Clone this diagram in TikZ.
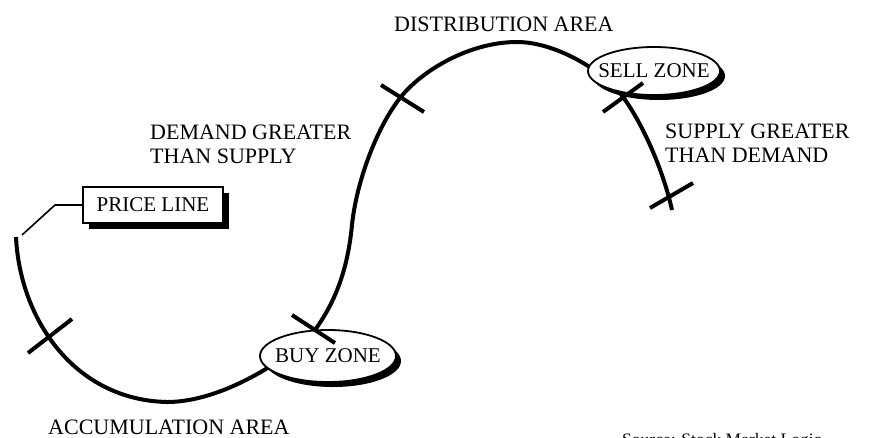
\documentclass[tikz,border=0pt]{standalone}
\usepackage{fontspec}
\setmainfont{Liberation Serif}
\usetikzlibrary{shapes.geometric,shadows}
\begin{document}
\begin{tikzpicture}[x=1pt,y=-1pt,
  pline/.style={line width=4pt},
  tickmark/.style={line width=4pt},
  leader/.style={line width=1.6pt},
  lbl/.style={font=\fontsize{22}{24}\selectfont, inner sep=0pt, align=left},
  zshadow/.style={drop shadow={shadow xshift=5pt, shadow yshift=-5pt, opacity=1, fill=black}},
  zone/.style={ellipse, draw, line width=1.8pt, fill=white, inner sep=0pt,
    font=\fontsize{21}{24}\selectfont, zshadow},
  pricebox/.style={rectangle, draw, line width=1.8pt, fill=white, minimum width=140pt,
    minimum height=36pt, inner sep=0pt, font=\fontsize{21}{24}\selectfont,
    drop shadow={shadow xshift=6pt, shadow yshift=-6pt, opacity=1, fill=black}},
]
\useasboundingbox (0,0) rectangle (878,437);

% curve points
\coordinate (p0) at (16,237);
\coordinate (p1) at (167,402);
\coordinate (p2) at (315,330);
\coordinate (p3) at (352,225);
\coordinate (p4) at (400,98);
\coordinate (p5) at (517,42);
\coordinate (p6) at (623,97);
\coordinate (p7) at (672,210);

\draw[pline] (p0) .. controls (20,320) and (75,400) .. (p1)
  .. controls (230,402) and (303,347) .. (p2)
  .. controls (338,298) and (348,265) .. (p3)
  .. controls (356,185) and (375,130) .. (p4)
  .. controls (422,70) and (470,42) .. (p5)
  .. controls (555,42) and (603,70) .. (p6)
  .. controls (640,120) and (662,165) .. (p7);

% zones
\node[zone, minimum width=136pt, minimum height=52pt] (bz) at (328,356) {\makebox[60pt]{BUY ZONE}};
\node[zone, minimum width=132pt, minimum height=48pt] (sz) at (654,71) {\makebox[60pt]{SELL ZONE}};

% ticks
\coordinate (t1a) at (28,353);  \coordinate (t1b) at (72,319);
\coordinate (t2a) at (292,315); \coordinate (t2b) at (335,343);
\coordinate (t3a) at (381,85);  \coordinate (t3b) at (424,112);
\coordinate (t4a) at (643,83);  \coordinate (t4b) at (603,112);
\coordinate (t5a) at (693,183); \coordinate (t5b) at (650,208);
\draw[tickmark] (t1a) -- (t1b);
\draw[tickmark] (t2a) -- (t2b);
\draw[tickmark] (t3a) -- (t3b);
\draw[tickmark] (t4a) -- (t4b);
\draw[tickmark] (t5a) -- (t5b);

% price line
\node[pricebox] (pl) at (153,205) {PRICE LINE};
\coordinate (lk) at (55,205);
\coordinate (le) at (22,235);
\draw[leader] (pl.west) -- (lk) -- (le);

% labels (base anchor = baseline of last line)
\node[lbl, anchor=base west] (dist) at (394,31) {DISTRIBUTION AREA};
\node[lbl, anchor=base west] (dem) at (150,163) {DEMAND GREATER\\THAN SUPPLY};
\node[lbl, anchor=base west] (sup) at (665,162) {SUPPLY GREATER\\THAN DEMAND};
\node[lbl, anchor=base west] (acc) at (48,434) {ACCUMULATION AREA};

\begin{scope}
\clip (0,0) rectangle (878,437);
\node[inner sep=0pt, anchor=base west, font=\fontsize{17.5}{20}\selectfont] (src) at (622,445) {Source: Stock Market Logic};
\end{scope}
\end{tikzpicture}
\end{document}
